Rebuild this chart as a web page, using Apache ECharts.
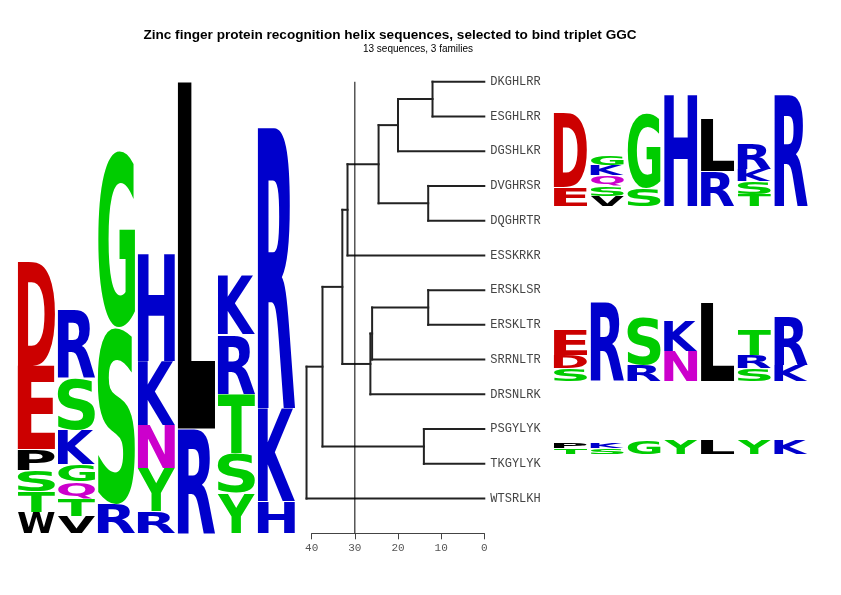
<!DOCTYPE html>
<html>
<head>
<meta charset="utf-8">
<style>
  html, body { margin: 0; padding: 0; background: #fff; }
  #chart { width: 841px; height: 595px; }
</style>
<script src="https://cdn.jsdelivr.net/npm/echarts@6/dist/echarts.min.js"></script>
</head>
<body>
<div id="chart"></div>
<script>
// logo stacks per position, listed bottom to top, heights in bits
const allStacks = [
  [["W", 0.164], ["T", 0.164], ["S", 0.164], ["P", 0.164], ["E", 0.656], ["D", 0.82]],
  [["V", 0.135], ["T", 0.135], ["Q", 0.135], ["G", 0.135], ["K", 0.27], ["S", 0.405], ["R", 0.54]],
  [["R", 0.231], ["S", 1.388], ["G", 1.388]],
  [["R", 0.168], ["Y", 0.337], ["N", 0.337], ["K", 0.505], ["H", 0.842]],
  [["R", 0.818], ["L", 2.725]],
  [["Y", 0.312], ["S", 0.312], ["T", 0.468], ["R", 0.468], ["K", 0.468]],
  [["H", 0.245], ["K", 0.734], ["R", 2.203]],
];
const family1Stacks = [
  [["E", 0.72], ["D", 2.88]],
  [["V", 0.4], ["S", 0.4], ["Q", 0.4], ["K", 0.4], ["G", 0.4]],
  [["S", 0.72], ["G", 2.88]],
  [["H", 4.32]],
  [["R", 1.34], ["L", 2.01]],
  [["T", 0.48], ["S", 0.48], ["K", 0.48], ["R", 0.96]],
  [["R", 4.32]],
];
const family2Stacks = [
  [["S", 0.705], ["D", 0.705], ["E", 1.411]],
  [["R", 4.32]],
  [["R", 0.878], ["S", 2.633]],
  [["N", 1.661], ["K", 1.661]],
  [["L", 4.32]],
  [["S", 0.705], ["R", 0.705], ["T", 1.411]],
  [["K", 0.878], ["R", 2.633]],
];
const family3Stacks = [
  [["T", 1.661], ["P", 1.661]],
  [["S", 1.661], ["K", 1.661]],
  [["G", 4.32]],
  [["Y", 4.32]],
  [["L", 4.32]],
  [["Y", 4.32]],
  [["K", 4.32]],
];

// dendrogram: leaves top to bottom, merges like hclust (negative = leaf number)
const leafLabels = ["DKGHLRR", "ESGHLRR", "DGSHLKR", "DVGHRSR", "DQGHRTR", "ESSKRKR",
  "ERSKLSR", "ERSKLTR", "SRRNLTR", "DRSNLRK", "PSGYLYK", "TKGYLYK", "WTSRLKH"];
const merges = [
  [-1, -2, 12], [-4, -5, 13], [-7, -8, 13], [-11, -12, 14], [1, -3, 20], [5, 2, 24.5],
  [3, -9, 26], [7, -10, 26.4], [6, -6, 31.7], [9, 8, 32.9], [10, 4, 37.5], [11, -13, 41.2],
];
const cutHeight = 30;
const axisTicks = [0, 10, 20, 30, 40];

const letterColors = {
  D: "#cc0000", E: "#cc0000",
  K: "#0000cc", R: "#0000cc", H: "#0000cc",
  G: "#00cc00", S: "#00cc00", T: "#00cc00", Y: "#00cc00",
  N: "#cc00cc", Q: "#cc00cc",
  P: "#000000", W: "#000000", V: "#000000", L: "#000000",
};

const LETTER_FONT = 'bold 100px "DejaVu Sans", "Liberation Sans", sans-serif';
const mctx = document.createElement("canvas").getContext("2d");
mctx.font = LETTER_FONT;
mctx.textBaseline = "middle";
mctx.textAlign = "left";
const metricCache = {};
function glyph(ch) {
  if (!metricCache[ch]) {
    const m = mctx.measureText(ch);
    metricCache[ch] = {
      left: m.actualBoundingBoxLeft,
      right: m.actualBoundingBoxRight,
      ascent: m.actualBoundingBoxAscent,
      descent: m.actualBoundingBoxDescent,
    };
  }
  return metricCache[ch];
}

function logoSeries(stacks, idx, pad) {
  const items = [];
  stacks.forEach((stack, i) => {
    let y = 0;
    stack.forEach(([ch, h]) => {
      items.push({ col: i + 1, y0: y, y1: y + h, ch: ch });
      y += h;
    });
  });
  return {
    type: "custom",
    xAxisIndex: idx,
    yAxisIndex: idx,
    silent: true,
    data: items.map((d) => [d.col, d.y0, d.y1]),
    renderItem: (params, api) => {
      const d = items[params.dataIndex];
      const p0 = api.coord([d.col - 0.5 + pad, d.y0]);
      const p1 = api.coord([d.col + 0.5 - pad, d.y1]);
      const w = p1[0] - p0[0];
      const h = p0[1] - p1[1] - 0.6;
      if (h <= 0.2) return null;
      const g = glyph(d.ch);
      const sx = w / (g.left + g.right);
      const sy = h / (g.ascent + g.descent);
      return {
        type: "text",
        x: p0[0] + g.left * sx,
        y: p1[1] + g.ascent * sy,
        scaleX: sx,
        scaleY: sy,
        style: {
          text: d.ch,
          font: LETTER_FONT,
          fill: letterColors[d.ch],
          align: "left",
          verticalAlign: "middle",
        },
      };
    },
  };
}

// dendrogram segments from the merge table
const nodes = [];
const segments = [];
function nodePos(k) {
  return k < 0 ? { x: 0, y: -k } : nodes[k - 1];
}
merges.forEach(([a, b, h]) => {
  const A = nodePos(a);
  const B = nodePos(b);
  segments.push([A.x, A.y, h, A.y]);
  segments.push([B.x, B.y, h, B.y]);
  segments.push([h, A.y, h, B.y]);
  nodes.push({ x: h, y: (A.y + B.y) / 2 });
});

function hiddenAxis(idx, min, max) {
  return { gridIndex: idx, type: "value", min: min, max: max, show: false, splitLine: { show: false } };
}

const myChart = echarts.init(document.getElementById("chart"), null, { renderer: "canvas" });
const option = {
  animation: false,
  backgroundColor: "#fff",
  grid: [
    { left: 16.4, top: 23.7, width: 280, height: 509.6, outerBoundsMode: "none" },
    { left: 552.1, top: 90.4, width: 257.3, height: 116.3, outerBoundsMode: "none" },
    { left: 552.1, top: 299.4, width: 257.3, height: 82.3, outerBoundsMode: "none" },
    { left: 552.1, top: 439.4, width: 257.3, height: 14.9, outerBoundsMode: "none" },
    { left: 311.7, top: 81.7, width: 172.6, height: 451.6, outerBoundsMode: "none" },
  ],
  xAxis: [
    hiddenAxis(0, 0.5, 7.5),
    hiddenAxis(1, 0.5, 7.5),
    hiddenAxis(2, 0.5, 7.5),
    hiddenAxis(3, 0.5, 7.5),
    {
      gridIndex: 4,
      type: "value",
      inverse: true,
      min: axisTicks[0],
      max: axisTicks[axisTicks.length - 1],
      interval: 10,
      splitLine: { show: false },
      axisLine: { show: true, lineStyle: { color: "#444", width: 1 } },
      axisTick: { show: true, length: 6, lineStyle: { color: "#444" } },
      axisLabel: {
        margin: 9,
        color: "#555",
        fontSize: 11,
        fontFamily: '"Liberation Mono", monospace',
      },
    },
  ],
  yAxis: [
    hiddenAxis(0, 0, 4),
    hiddenAxis(1, 0, 4.5),
    hiddenAxis(2, 0, 4.5),
    hiddenAxis(3, 0, 4.5),
    { gridIndex: 4, type: "value", inverse: true, min: 1, max: 14, show: false, splitLine: { show: false } },
  ],
  graphic: [
    {
      type: "text",
      x: 390,
      y: 35,
      style: {
        text: "Zinc finger protein recognition helix sequences, selected to bind triplet GGC",
        font: 'bold 13.6px "Liberation Sans", Arial, sans-serif',
        fill: "#000",
        align: "center",
        verticalAlign: "middle",
      },
    },
    {
      type: "text",
      x: 418,
      y: 49,
      style: {
        text: "13 sequences, 3 families",
        font: '10px "Liberation Sans", Arial, sans-serif',
        fill: "#000",
        align: "center",
        verticalAlign: "middle",
      },
    },
  ],
  series: [
    logoSeries(allStacks, 0, 0.035),
    logoSeries(family1Stacks, 1, 0.05),
    logoSeries(family2Stacks, 2, 0.05),
    logoSeries(family3Stacks, 3, 0.05),
    {
      type: "custom",
      xAxisIndex: 4,
      yAxisIndex: 4,
      silent: true,
      data: segments,
      renderItem: (params, api) => {
        const a = api.coord([api.value(0), api.value(1)]);
        const b = api.coord([api.value(2), api.value(3)]);
        return {
          type: "line",
          shape: { x1: a[0], y1: a[1], x2: b[0], y2: b[1] },
          style: { stroke: "#222", lineWidth: 2, lineCap: "square" },
        };
      },
    },
    {
      type: "line",
      xAxisIndex: 4,
      yAxisIndex: 4,
      silent: true,
      symbol: "none",
      data: [[cutHeight, 1], [cutHeight, 14]],
      lineStyle: { color: "#000", width: 1 },
    },
    {
      type: "custom",
      xAxisIndex: 4,
      yAxisIndex: 4,
      silent: true,
      data: leafLabels.map((name, i) => [0, i + 1]),
      renderItem: (params, api) => {
        const p = api.coord([api.value(0), api.value(1)]);
        return {
          type: "text",
          x: p[0] + 6,
          y: p[1],
          style: {
            text: leafLabels[params.dataIndex],
            font: '12px "Liberation Mono", monospace',
            fill: "#444",
            align: "left",
            verticalAlign: "middle",
          },
        };
      },
    },
  ],
};
myChart.setOption(option);
</script>
</body>
</html>
